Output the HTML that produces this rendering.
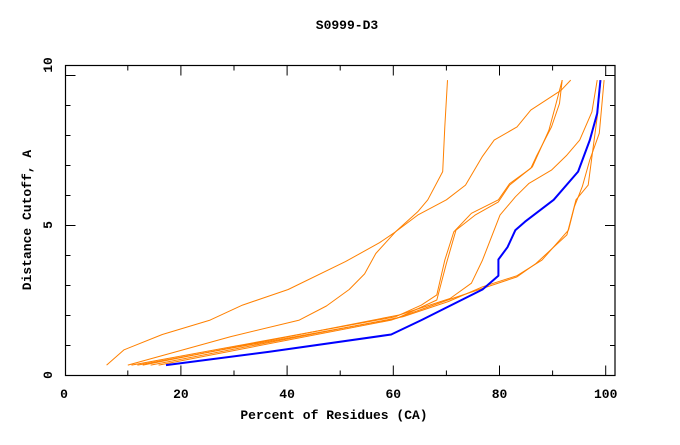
<!DOCTYPE html>
<html><head><meta charset="utf-8"><style>
html,body{margin:0;padding:0;background:#fff;}
svg text{font-family:"Liberation Mono","DejaVu Sans Mono",monospace;font-weight:bold;fill:#000;}
</style></head><body>
<svg id="chart" width="680" height="440" xmlns="http://www.w3.org/2000/svg">
<text x="347" y="29" font-size="13" text-anchor="middle">S0999-D3</text>
<rect x="65.5" y="65.5" width="549.5" height="310" fill="none" stroke="#000" stroke-width="1.2"/>
<g id="ticks"></g>
<g id="series"></g>
<text x="334" y="419" font-size="13" text-anchor="middle">Percent of Residues (CA)</text>
<text transform="translate(31,220) rotate(-90)" font-size="13" text-anchor="middle">Distance Cutoff, A</text>
</svg>
<script>
const xTicks=[0,20,40,60,80,100];
const yTicks=[0,5,10];
const blueX=[17.2,36.5,59.6,65.3,69.7,76.8,79.8,79.8,81.5,83.0,84.8,90.2,94.8,97.0,98.4,99.0];
const blueY=[0.33,0.77,1.35,1.83,2.22,2.85,3.31,3.85,4.26,4.83,5.11,5.84,6.78,7.83,8.72,9.83];
const aX=[6.0,9.3,16.5,25.5,31.6,40.2,51.0,57.4,60.4,64.6,70.0,73.6,76.8,79.0,83.3,85.9,91.6,93.4];
const aY=[0.33,0.84,1.35,1.83,2.33,2.85,3.78,4.41,4.77,5.33,5.84,6.33,7.29,7.83,8.27,8.83,9.49,9.83];
const bX=[10.0,29.4,42.3,47.4,51.7,54.6,56.7,60.4,64.6,66.5,69.3,69.7,70.2];
const bY=[0.33,1.28,1.83,2.30,2.85,3.37,4.05,4.77,5.44,5.84,6.78,8.27,9.83];
const cX=[10.7,60.4,65.3,68.2,69.7,71.4,74.7,79.8,81.9,85.9,86.9,89.8,91.3,91.8];
const cY=[0.33,1.94,2.33,2.67,3.83,4.77,5.39,5.84,6.38,6.89,7.27,8.27,9.05,9.83];
const c3X=[11.8,60.7,68.2,70.0,71.8,75.4,79.8,81.9,86.2,89.3,90.5,91.8];
const c3Y=[0.33,1.89,2.50,3.72,4.83,5.33,5.77,6.33,6.94,8.16,8.95,9.83];
const dX=[12.8,61.1,70.7,74.7,76.8,80.1,83.0,85.5,89.8,92.7,95.1,97.4,98.4];
const dY=[0.33,2.00,2.55,3.06,3.83,5.33,5.94,6.38,6.83,7.33,7.83,8.77,9.83];
const eX=[14.3,61.8,70.4,76.8,83.3,88.0,93.0,94.1,95.6,97.0,98.8,99.7];
const eY=[0.33,1.94,2.45,2.94,3.31,3.83,4.83,5.61,6.28,7.17,8.06,9.83];
const e2X=[15.8,59.6,71.1,83.3,86.9,92.7,94.4,96.7,97.4,98.4,99.1];
const e2Y=[0.33,1.83,2.55,3.27,3.72,4.67,5.84,6.33,7.27,8.60,9.83];

const NS="http://www.w3.org/2000/svg";
const sx=v=>74.7+v*5.31;
const sy=v=>375-v*30;
const tg=document.getElementById('ticks');
function ln(x1,y1,x2,y2){const l=document.createElementNS(NS,'line');l.setAttribute('x1',x1);l.setAttribute('y1',y1);l.setAttribute('x2',x2);l.setAttribute('y2',y2);l.setAttribute('stroke','#000');l.setAttribute('stroke-width','1');tg.appendChild(l);return l;}
for(let v=10;v<=100;v+=10){
  const len=(v%20===0)?10:5;
  const t1=ln(sx(v),375.5,sx(v),375.5-len);
  
  
  const t2=ln(sx(v),65.5,sx(v),65.5+len);
  
  
}
for(let v=1;v<=10;v++){
  const len=(v%5===0)?10:5;
  const t=ln(615,sy(v)+0.5,615-len,sy(v)+0.5);
  
  
  const l=ln(65.5,sy(v)+0.5,65.5+len,sy(v)+0.5);
  
  
}
xTicks.forEach(v=>{
  const t=document.createElementNS(NS,'text');
  t.setAttribute('x',v===0?64:sx(v));t.setAttribute('y',398);
  t.setAttribute('font-size','13');t.setAttribute('text-anchor','middle');
  t.textContent=v;
  
  
  tg.appendChild(t);
});
yTicks.forEach(v=>{
  const t=document.createElementNS(NS,'text');
  const yy=v===10?65:sy(v);
  t.setAttribute('transform','translate(52,'+yy+') rotate(-90)');
  t.setAttribute('font-size','13');t.setAttribute('text-anchor','middle');
  t.textContent=v;
  
  
  tg.appendChild(t);
});
const sg=document.getElementById('series');
function line(xs,ys,color,w,name){
  const p=document.createElementNS(NS,'polyline');
  p.setAttribute('points',xs.map((x,i)=>sx(x).toFixed(1)+','+sy(ys[i]).toFixed(1)).join(' '));
  p.setAttribute('fill','none');p.setAttribute('stroke',color);p.setAttribute('stroke-width',w);
  p.setAttribute('stroke-linejoin','round');
  
  
  sg.appendChild(p);
}
const OR='#ff8000';
line(aX,aY,OR,1,'series-a-line');
line(bX,bY,OR,1,'series-b-line');
line(cX,cY,OR,1,'series-c-line');
line(c3X,c3Y,OR,1,'series-c3-line');
line(dX,dY,OR,1,'series-d-line');
line(eX,eY,OR,1,'series-e-line');
line(e2X,e2Y,OR,1,'series-e2-line');
line(blueX,blueY,'#0000ff',2,'highlight-series-line');
</script>
</body></html>
